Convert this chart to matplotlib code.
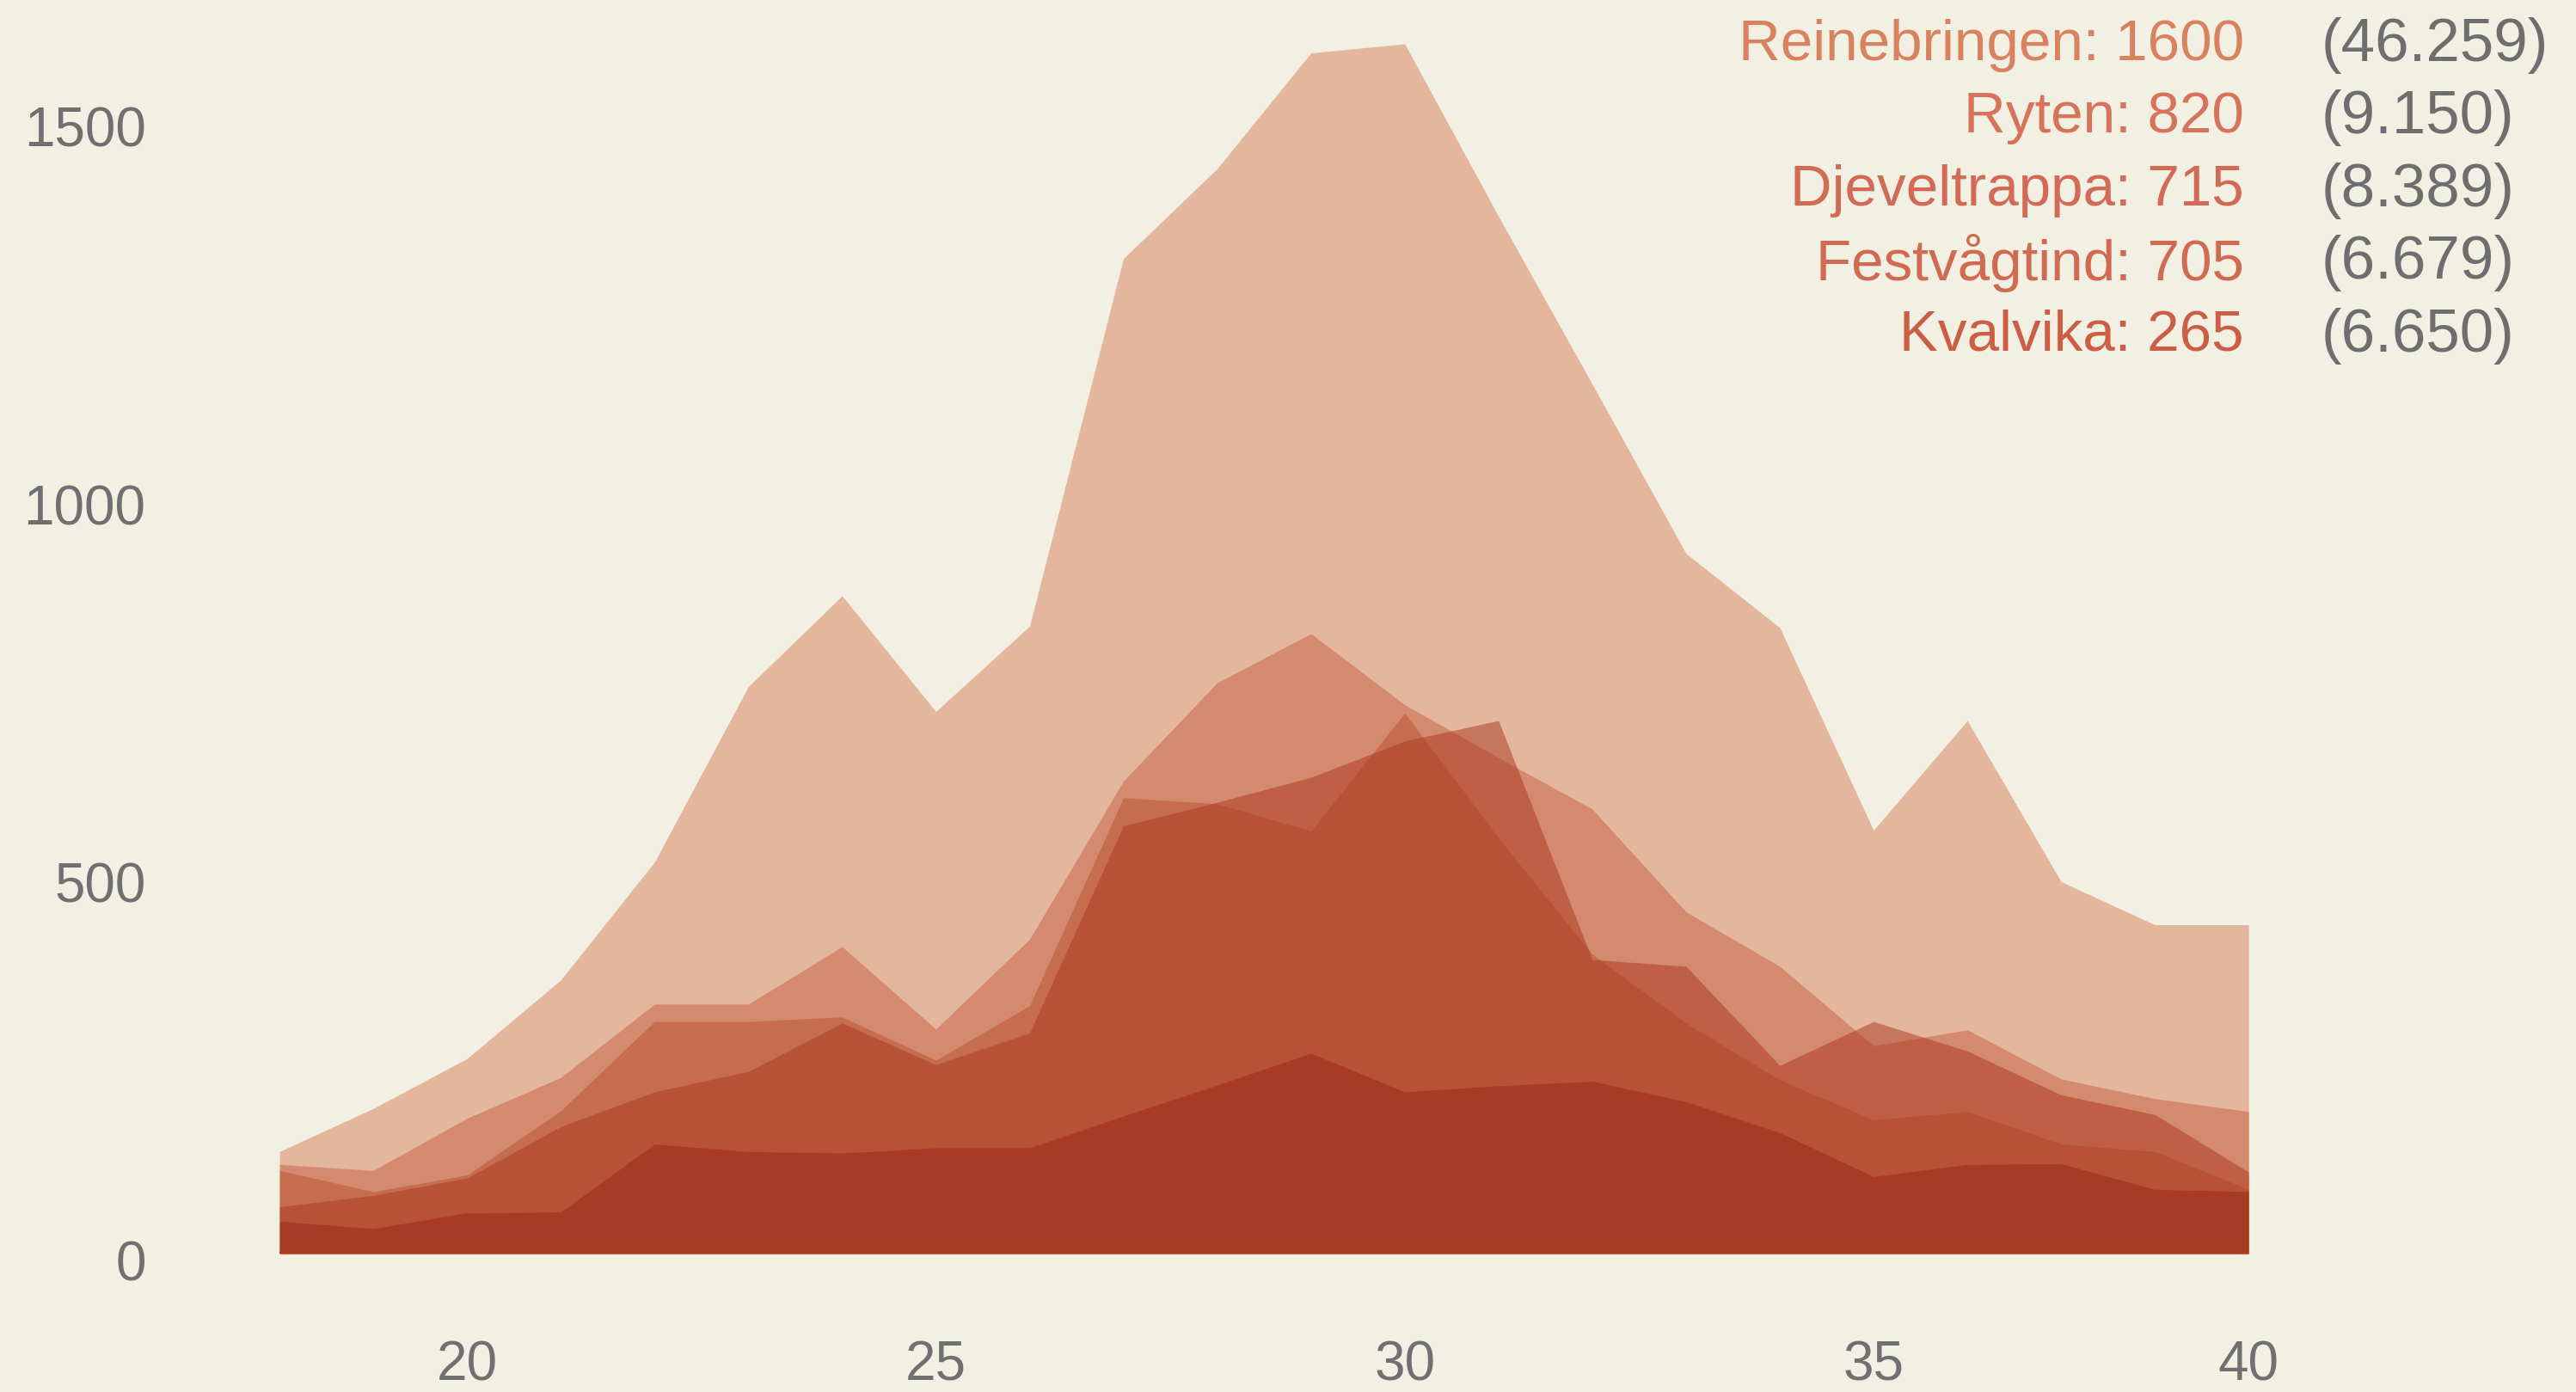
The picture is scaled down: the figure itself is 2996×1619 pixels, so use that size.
import matplotlib.pyplot as plt
import matplotlib.transforms as mtransforms

# Wochen und Besucher pro Woche
weeks = list(range(18, 40))

reinebringen = [135, 192, 258, 362, 518, 750, 870, 717, 830, 1316, 1435, 1588, 1600, 1372, 1150, 926, 828, 560, 705, 492, 435, 435]
ryten = [118, 110, 179, 233, 330, 330, 406, 297, 416, 625, 755, 820, 726, 656, 588, 452, 380, 275, 296, 231, 205, 188]
djeveltrappa = [110, 82, 104, 189, 307, 307, 313, 256, 328, 603, 595, 559, 715, 550, 396, 305, 230, 177, 188, 145, 135, 85]
festvagtind = [62, 77, 100, 168, 214, 241, 305, 250, 292, 566, 597, 630, 678, 705, 389, 380, 249, 307, 268, 210, 184, 108]
kvalvika = [43, 33, 54, 55, 145, 135, 133, 140, 140, 182, 223, 265, 214, 222, 228, 201, 160, 102, 118, 119, 85, 82]

names = ["Reinebringen", "Ryten", "Djeveltrappa", "Festvågtind", "Kvalvika"]
series = [reinebringen, ryten, djeveltrappa, festvagtind, kvalvika]
maxima = [1600, 820, 715, 705, 265]
totals = ["(46.259)", "(9.150)", "(8.389)", "(6.679)", "(6.650)"]

x_ticks = [20, 25, 30, 35, 39]
x_labels = ["20", "25", "30", "35", "40"]
y_ticks = [0, 500, 1000, 1500]

fill_colors = ["#d57f58", "#c75f42", "#b95130", "#ab381e", "#972515"]
text_colors = ["#d9825f", "#d6735a", "#d26a55", "#d06a50", "#cc5e45"]
bg = "#f2efe3"

plt.rcParams['font.family'] = ['Liberation Sans', 'DejaVu Sans']

fig = plt.figure(figsize=(29.96, 16.19), dpi=100, facecolor=bg)
ax = fig.add_axes([0.1085, 0.0994, 0.7644, 0.9006])
ax.set_facecolor(bg)

for vals, col in zip(series, fill_colors):
    ax.fill_between(weeks, 0, vals, color=col, alpha=0.5, linewidth=0)

ax.plot([weeks[0], weeks[-1]], [0, 0], color="#b8381f", linewidth=3, alpha=0.8)

ax.set_xlim(18, 39)
ax.set_ylim(0, 1658)
ax.set_xticks(x_ticks)
ax.set_xticklabels(x_labels)
ax.set_yticks(y_ticks)
ax.tick_params(axis='both', length=0, labelsize=46, colors="#707070")
ax.tick_params(axis='x', pad=72)
ax.tick_params(axis='y', pad=112)
# y-Beschriftung etwas nach unten schieben
shift = mtransforms.ScaledTranslation(0, -0.08, fig.dpi_scale_trans)
for lbl in ax.get_yticklabels():
    lbl.set_transform(lbl.get_transform() + shift)
for s in ax.spines.values():
    s.set_visible(False)

# Legende oben rechts
for i in range(5):
    y = 0.9675 - i * 0.0522
    fig.text(0.8712, y, f"{names[i]}: {maxima[i]}", ha='right', va='center',
             fontsize=48.5, color=text_colors[i])
    fig.text(0.9012, y, totals[i], ha='left', va='center',
             fontsize=51, color="#6e6e6e")

fig.savefig("out.png", dpi=100, facecolor=bg)
